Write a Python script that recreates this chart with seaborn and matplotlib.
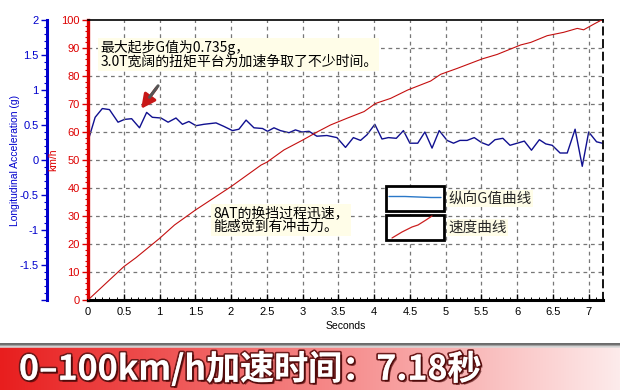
import numpy as np
import pandas as pd
import seaborn as sns
import matplotlib
matplotlib.use("Agg")
import matplotlib.pyplot as plt
from matplotlib.ticker import MultipleLocator, FixedLocator
from matplotlib.patches import Rectangle
from matplotlib.lines import Line2D
import matplotlib.patheffects as pe

# ---------------- data ----------------
g_time = [0, 0.1, 0.2, 0.3, 0.42, 0.51, 0.61, 0.72, 0.82, 0.90, 1.02, 1.12, 1.23, 1.32,
          1.41, 1.51, 1.62, 1.79, 1.90, 2.02, 2.11, 2.21, 2.32, 2.44, 2.51, 2.60, 2.69,
          2.81, 2.90, 2.99, 3.09, 3.20, 3.34, 3.48, 3.60, 3.71, 3.81, 3.90, 4.01, 4.11,
          4.20, 4.31, 4.41, 4.50, 4.61, 4.71, 4.81, 4.91, 5.02, 5.11, 5.20, 5.30, 5.40,
          5.50, 5.60, 5.69, 5.80, 5.90, 6.00, 6.10, 6.20, 6.31, 6.40, 6.49, 6.60, 6.70,
          6.81, 6.91, 7.00, 7.11, 7.19]
g_value = [0.27, 0.61, 0.735, 0.72, 0.54, 0.58, 0.59, 0.46, 0.68, 0.61, 0.60, 0.54, 0.60,
           0.51, 0.55, 0.49, 0.51, 0.53, 0.48, 0.42, 0.44, 0.57, 0.46, 0.45, 0.41, 0.46,
           0.42, 0.39, 0.43, 0.40, 0.41, 0.34, 0.35, 0.32, 0.18, 0.32, 0.28, 0.36, 0.51,
           0.30, 0.32, 0.31, 0.42, 0.24, 0.24, 0.40, 0.17, 0.42, 0.28, 0.24, 0.28, 0.28,
           0.32, 0.25, 0.21, 0.29, 0.31, 0.21, 0.24, 0.27, 0.14, 0.29, 0.23, 0.21, 0.10,
           0.10, 0.44, -0.09, 0.40, 0.26, 0.24]

v_time = [0, 0.5, 0.67, 1.0, 1.21, 1.5, 2.0, 2.42, 2.5, 2.74, 3.0, 3.21, 3.39, 3.62, 3.86,
          4.02, 4.23, 4.47, 4.79, 4.93, 5.16, 5.51, 5.72, 6.05, 6.19, 6.42, 6.65, 6.84,
          6.93, 7.07, 7.18]
v_speed = [0, 11.9, 15.1, 22.0, 26.8, 32.1, 40.5, 48.2, 49.2, 53.6, 57.1, 60.1, 62.5,
           64.9, 67.3, 70.2, 72.0, 75.0, 78.2, 80.6, 82.7, 86.1, 87.7, 91.1, 92.0, 94.4,
           95.6, 97.0, 96.5, 98.5, 100]

x_ticks = [0, 0.5, 1, 1.5, 2, 2.5, 3, 3.5, 4, 4.5, 5, 5.5, 6, 6.5, 7]
x_ticklabels = ["0", "0.5", "1", "1.5", "2", "2.5", "3", "3.5", "4", "4.5", "5", "5.5",
                "6", "6.5", "7"]
v_ticks = [0, 10, 20, 30, 40, 50, 60, 70, 80, 90, 100]
g_ticks = [-1.5, -1, -0.5, 0, 0.5, 1, 1.5, 2]
g_ticklabels = ["-1.5", "-1", "-0.5", "0", "0.5", "1", "1.5", "2"]

note1 = "最大起步G值为0.735g，\n3.0T宽阔的扭矩平台为加速争取了不少时间。"
note2 = "8AT的换挡过程迅速，\n能感觉到有冲击力。"
legend_labels = ["纵向G值曲线", "速度曲线"]
banner = "0–100km/h加速时间：7.18秒"

df_g = pd.DataFrame({"t": g_time, "g": g_value})
df_v = pd.DataFrame({"t": v_time, "v": v_speed})

# ---------------- style ----------------
sns.set_theme(style="white")
plt.rcParams["font.family"] = ["Liberation Sans", "Noto Sans CJK SC", "DejaVu Sans"]
CJK = ["Noto Sans CJK SC", "DejaVu Sans"]

W, H = 620, 390
fig = plt.figure(figsize=(6.2, 3.9), dpi=100)
fig.patch.set_facecolor("white")

ax = fig.add_axes([88 / W, 90 / H, 515 / W, 280 / H])
ax.set_facecolor("white")
ax.set_xlim(0, 7.2)
ax.set_ylim(0, 100)

RED = "#dd0000"
BLUE = "#0000cc"

# grid
for xv in x_ticks[1:]:
    ax.axvline(xv, color="#777777", lw=0.9, ls=(0, (3, 3)), zorder=0)
for yv in v_ticks[1:-1]:
    ax.axhline(yv, color="#777777", lw=0.9, ls=(0, (3, 3)), zorder=0)

# speed line
sns.lineplot(data=df_v, x="t", y="v", ax=ax, color="#c40f0f", lw=0.8, zorder=3)

# G axis (left, offset)
ax2 = ax.twinx()
ax2.set_ylim(-2, 2)
sns.lineplot(data=df_g, x="t", y="g", ax=ax2, color="#101090", lw=1.0, zorder=4)
ax2.yaxis.set_ticks_position("left")
ax2.yaxis.set_label_position("left")
ax2.spines["left"].set_position(("outward", 29.5))
ax2.spines["left"].set_color(BLUE)
ax2.spines["left"].set_linewidth(2.2)
for s in ["right", "top", "bottom"]:
    ax2.spines[s].set_visible(False)
ax2.yaxis.set_major_locator(FixedLocator(g_ticks + [-2]))
ax2.set_yticklabels(g_ticklabels + [""])
ax2.yaxis.set_minor_locator(MultipleLocator(0.1))
ax2.tick_params(axis="y", which="major", colors=BLUE, labelcolor=BLUE, labelsize=8,
                length=4, width=1, pad=2, direction="out")
ax2.tick_params(axis="y", which="minor", colors=BLUE, length=2, width=0.8, direction="out")
ax2.set_ylabel("Longitudinal Acceleration (g)", color=BLUE, fontsize=7.5)
ax2.yaxis.set_label_coords(-0.132, 0.5)
ax2.set_xlabel("")

# main axis styling
ax.spines["left"].set_color(RED)
ax.spines["left"].set_linewidth(2.4)
ax.spines["bottom"].set_color("black")
ax.spines["bottom"].set_linewidth(2.2)
ax.spines["top"].set_color("black")
ax.spines["top"].set_linewidth(1.2)
ax.spines["right"].set_color("black")
ax.spines["right"].set_linewidth(1.3)
ax.spines["right"].set_linestyle((0, (4, 3)))
ax.set_yticks(v_ticks)
ax.set_yticklabels([str(v) for v in v_ticks])
ax.yaxis.set_minor_locator(MultipleLocator(2))
ax.tick_params(axis="y", which="major", colors=RED, labelcolor=RED, labelsize=8,
               length=4, width=1, pad=2, left=True)
ax.tick_params(axis="y", which="minor", colors=RED, length=2, width=0.8, left=True)
ax.set_xticks(x_ticks)
ax.set_xticklabels(x_ticklabels)
ax.xaxis.set_minor_locator(MultipleLocator(0.1))
ax.tick_params(axis="x", which="major", colors="black", labelsize=8, length=4,
               width=1, direction="in", pad=5, bottom=True)
ax.tick_params(axis="x", which="minor", colors="black", length=2, width=0.7,
               direction="in", bottom=True)
ax.set_xlabel("Seconds", fontsize=7.5, color="black", labelpad=3)
ax.set_ylabel("km/h", color=RED, fontsize=7.5)
ax.yaxis.set_label_coords(-0.058, 0.5)

ax.set_zorder(ax2.get_zorder() + 1)
ax.patch.set_visible(False)
ax2.patch.set_visible(True)
ax2.patch.set_facecolor("white")

# annotations
bbox = dict(boxstyle="square,pad=0.15", fc="#fffde8", ec="none")
ax.text(0.17, 93.0, note1, fontsize=10, va="top", ha="left", color="black",
        linespacing=1.0, bbox=bbox, zorder=6, family=CJK)
ax.text(1.755, 33.6, note2, fontsize=10, va="top", ha="left", color="black",
        linespacing=1.0, bbox=bbox, zorder=6, family=CJK)
ax.annotate("", xy=(0.72, 67.5), xytext=(0.98, 76.5),
            arrowprops=dict(arrowstyle="-|>,head_length=0.7,head_width=0.35",
                            color="#c81818", lw=2.2), zorder=7)
ax.plot([0.86, 0.98], [72.4, 76.5], color="#555555", lw=2.2, zorder=8,
        solid_capstyle="round")

# overlay (legend boxes, banner) in pixel coordinates
ov = fig.add_axes([0, 0, 1, 1], zorder=20)
ov.set_xlim(0, W)
ov.set_ylim(H, 0)
ov.axis("off")
ov.patch.set_visible(False)

ov.add_patch(Rectangle((386, 186), 58, 25, fill=True, fc="white", ec="black", lw=2))
ov.add_patch(Rectangle((386, 215), 58, 25, fill=True, fc="white", ec="black", lw=2))
ov.add_line(Line2D([389, 405, 418, 431, 441], [196.5, 196.5, 197, 197.5, 197.5],
                   color="#2a78c8", lw=1))
ov.add_line(Line2D([392, 402, 412, 418, 426, 432], [238, 232, 227, 225, 220, 216],
                   color="#cc2020", lw=0.9))
for lab, yy in zip(legend_labels, [198.5, 227.5]):
    ov.text(448, yy, lab, fontsize=10.5, va="center", ha="left", family=CJK,
            bbox=dict(boxstyle="square,pad=0.1", fc="#fffde8", ec="none"))

# banner gradient
nx = 400
xs = np.linspace(0, 1, nx)
c0 = np.array([232, 30, 30]) / 255
c1 = np.array([246, 140, 140]) / 255
c2 = np.array([253, 235, 235]) / 255
cols = np.zeros((nx, 3))
for i, s in enumerate(xs):
    if s < 0.55:
        f = s / 0.55
        cols[i] = c0 * (1 - f) + c1 * f
    else:
        f = (s - 0.55) / 0.45
        cols[i] = c1 * (1 - f) + c2 * f
grad = np.tile(cols[None, :, :], (20, 1, 1))
ov.imshow(grad, extent=(0, W, H, 347), aspect="auto", zorder=1)
shade = np.linspace(0.25, 0.85, 4)
for k, sv in enumerate(shade):
    ov.add_line(Line2D([0, W], [344 + k, 344 + k], color=(sv, sv, sv), lw=1.1, zorder=2))
ov.set_xlim(0, W)
ov.set_ylim(H, 0)
ov.text(19, 369, banner, fontsize=24.5, fontweight="heavy", color="white",
        va="center", ha="left", family=CJK, zorder=3,
        path_effects=[pe.withStroke(linewidth=2.5, foreground="#6a1a1a"),
                      pe.SimplePatchShadow(offset=(1.5, -1.5), shadow_rgbFace="#400000",
                                           alpha=0.6),
                      pe.Normal()])

fig.savefig("out.png", dpi=100, facecolor="white")
